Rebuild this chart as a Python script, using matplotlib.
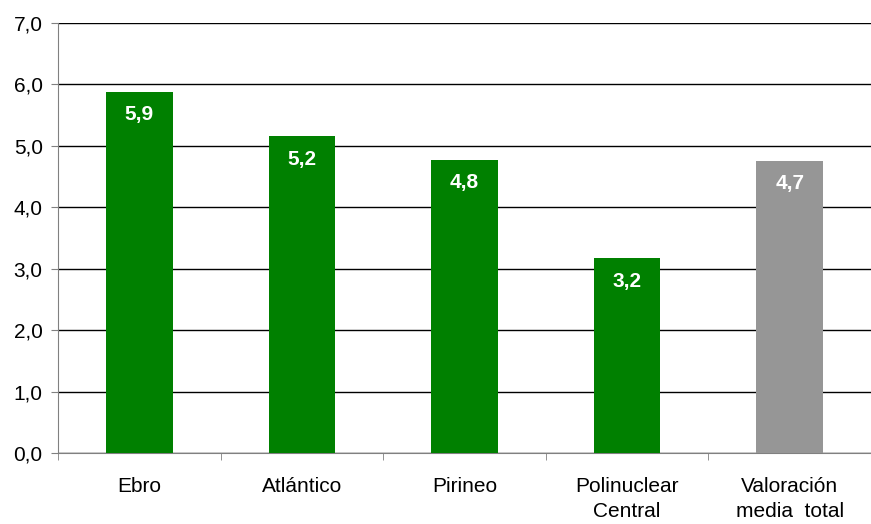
import matplotlib
matplotlib.use("agg")
import matplotlib.pyplot as plt
import numpy as np

categorias = ["Ebro", "Atlántico", "Pirineo", "Polinuclear\nCentral", "Valoración\nmedia  total"]
valores = [5.88, 5.16, 4.77, 3.17, 4.76]
etiquetas = ["5,9", "5,2", "4,8", "3,2", "4,7"]
colores = ["#008000", "#008000", "#008000", "#008000", "#969696"]

plt.rcParams["font.family"] = ["Liberation Sans", "DejaVu Sans"]

fig = plt.figure(figsize=(8.71, 5.24), dpi=100)
ax = fig.add_axes([58 / 871, 1 - 453 / 524, 813 / 871, 430 / 524])

x = np.arange(len(categorias))
bars = ax.bar(x, valores, width=0.41, color=colores, zorder=3)

for b, t in zip(bars, etiquetas):
    ax.annotate(t, (b.get_x() + b.get_width() / 2, b.get_height()),
                xytext=(0, -23), textcoords="offset pixels",
                ha="center", va="center", color="white",
                fontsize=15, fontweight="bold", zorder=4)

ax.set_xlim(-0.5, len(categorias) - 0.5)
ax.set_ylim(0, 7)
ax.set_yticks(np.arange(0, 8))
ax.set_yticklabels(["%d,0" % v for v in range(0, 8)], fontsize=15)
ax.yaxis.grid(True, color="black", linewidth=1, zorder=0)
ax.set_axisbelow(True)

ax.set_xticks(x)
ax.set_xticklabels(categorias, fontsize=15, linespacing=1.45, va="top")
ax.tick_params(axis="x", which="major", length=0, pad=17)
ax.set_xticks(np.arange(-0.5, len(categorias)), minor=True)
ax.tick_params(axis="x", which="minor", length=5, color="#808080", direction="out")
ax.tick_params(axis="y", length=5, color="#808080", pad=6)

for s in ("top", "right"):
    ax.spines[s].set_visible(False)
ax.spines["left"].set_color("#808080")
ax.spines["bottom"].set_color("#808080")

plt.savefig("out.png", dpi=100)
